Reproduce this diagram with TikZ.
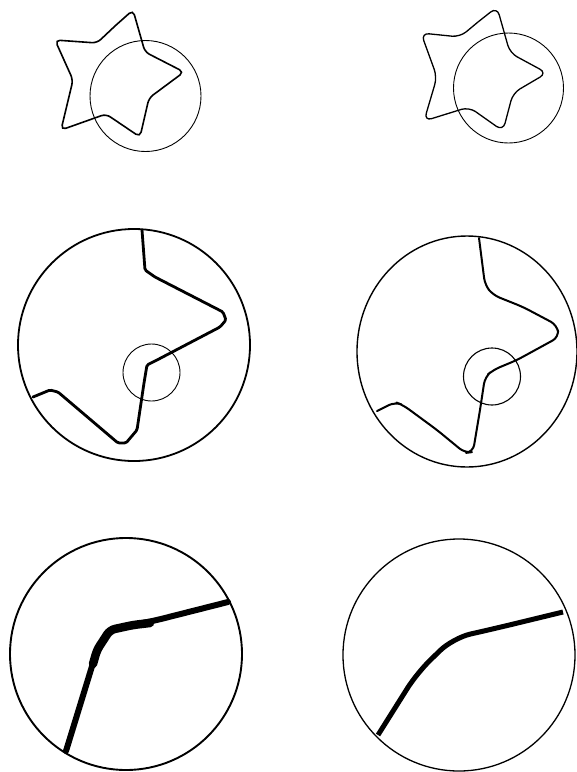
\documentclass[tikz,border=0pt]{standalone}
\usepackage{tikz}
\tikzset{
  contour/.style={draw=black, line width=1.6pt, rounded corners=5pt},
  ring/.style={draw=black, line width=0.9pt},
  lensring/.style={draw=black, line width=1.6pt},
  trace/.style={draw=black, line width=2.8pt, line join=round, line cap=round}
}
\begin{document}
\begin{tikzpicture}[x=1pt, y=-1pt]
  \useasboundingbox (0,0) rectangle (577,772);

  % Star, left
  \draw[contour] (115,26) -- (133,10) -- (145,52) -- (184,72) -- (149,98) -- (140,137)
    -- (106,114) -- (61,130) -- (73,80) -- (55,40) -- (97,43) -- (115,26);
  \draw[ring] (145.5,96) circle (55.5);

  % Star, right
  \draw[contour, line width=1.3pt, rounded corners=8pt] (478,22) -- (497,7) -- (510,53)
    -- (547,73) -- (513,93) -- (503,131) -- (469,107) -- (424,121) -- (437,77)
    -- (421,33) -- (460,37) -- (478,22);
  \draw[ring] (508.5,88) circle (55);

  % Middle, left
  \draw[lensring, line width=1.8pt] (134,345) circle (116);
  \draw[ring] (151.5,372.5) circle (28.5);
  \draw[trace, rounded corners=1.5pt] (142,230) -- (145,270) -- (155,277) -- (223,312)
    -- (226,320) -- (220,327) -- (157,360) -- (147,365) -- (144,383) -- (137,430)
    -- (126,443) -- (118,443) -- (58,392) -- (50,390) -- (33,397);

  % Middle, right
  \draw[lensring, line width=1.4pt] (467,351.5) ellipse (110 and 115.5);
  \draw[ring, line width=1.1pt] (492,376.5) circle (28.5);
  \draw[trace, line width=2pt, rounded corners=7pt] (479,238) -- (485,285) -- (493,295)
    -- (523,307) -- (557,325) -- (559,337) -- (517,360) -- (493,370) -- (485,377)
    -- (480,410) -- (473,452) -- (465,453) -- (437,430) -- (403,405) -- (395,402)
    -- (377,411);

  % Bottom, left
  \draw[lensring, line width=1.9pt] (126,654) circle (116);
  \draw[trace, line width=6pt, rounded corners=6pt] (66,751) -- (97,650) -- (110,630)
    -- (133,625) -- (157,620) -- (228,602);
  \draw[trace, line width=8.5pt, rounded corners=5pt] (93,664) -- (97,650) -- (110,630)
    -- (133,625) -- (150,623);

  % Bottom, right
  \draw[lensring, line width=1.3pt] (459,655) circle (116);
  \draw[trace, line width=5pt, line cap=butt, rounded corners=18pt] (378,735) -- (417,673)
    -- (453,638) -- (497,628) -- (563,612);
\end{tikzpicture}
\end{document}
